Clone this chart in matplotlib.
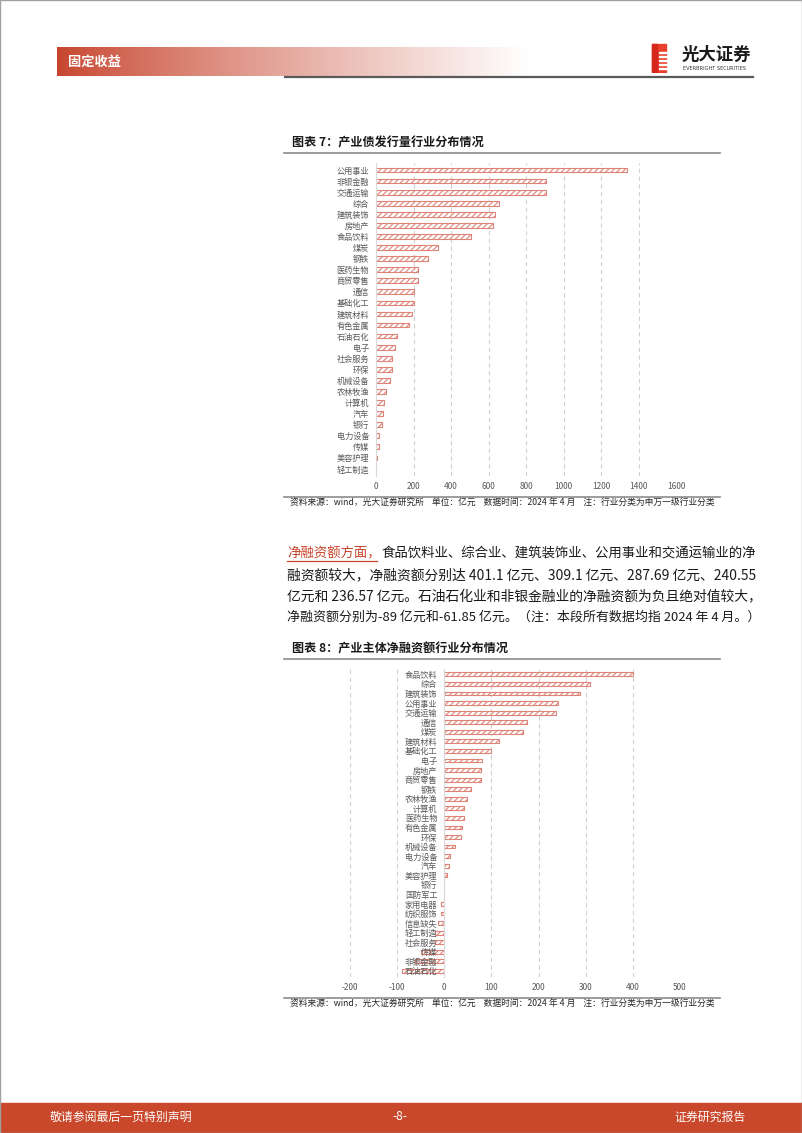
import numpy as np
import matplotlib
matplotlib.use('Agg')
import matplotlib.pyplot as plt
from matplotlib.patches import Rectangle

plt.rcParams['font.family'] = ['Noto Sans CJK SC', 'DejaVu Sans']
plt.rcParams['hatch.linewidth'] = 0.8
plt.rcParams['axes.unicode_minus'] = False

# 图表7 产业债发行量（亿元）
ind1 = ['公用事业', '非银金融', '交通运输', '综合', '建筑装饰', '房地产', '食品饮料', '煤炭',
        '钢铁', '医药生物', '商贸零售', '通信', '基础化工', '建筑材料', '有色金属', '石油石化',
        '电子', '社会服务', '环保', '机械设备', '农林牧渔', '计算机', '汽车', '银行',
        '电力设备', '传媒', '美容护理', '轻工制造']
vals1 = [1337, 909, 906, 656, 634, 624, 508, 330, 276, 226, 223, 205, 201, 191, 175, 114,
         100, 87, 84, 77, 55, 43, 39, 32, 18, 17, 5, 2]
ticks1 = [0, 200, 400, 600, 800, 1000, 1200, 1400, 1600]

# 图表8 产业主体净融资额（亿元）
ind2 = ['食品饮料', '综合', '建筑装饰', '公用事业', '交通运输', '通信', '煤炭', '建筑材料',
        '基础化工', '电子', '房地产', '商贸零售', '钢铁', '农林牧渔', '计算机', '医药生物',
        '有色金属', '环保', '机械设备', '电力设备', '汽车', '美容护理', '银行', '国防军工',
        '家用电器', '纺织服饰', '信息缺失', '轻工制造', '社会服务', '传媒', '非银金融', '石油石化']
vals2 = [401.1, 309.1, 287.69, 240.55, 236.57, 175, 168, 115, 100, 81, 78, 77, 57, 49, 42, 41,
         38, 36, 23, 12, 11, 6, 0, 0, -7, -7, -13, -19, -19, -50, -61.85, -89]
ticks2 = [-200, -100, 0, 100, 200, 300, 400, 500]

W, H = 802, 1133
fig = plt.figure(figsize=(W / 100, H / 100), dpi=100)

def fx(x):
    return x / W

def fy(y):
    return 1 - y / H

def box(x0, y0, x1, y1):
    return [fx(x0), fy(y1), fx(x1) - fx(x0), fy(y0) - fy(y1)]

red = '#C9472B'
bar_edge = '#DE8378'
grid_c = '#D0D0D0'
txt_gray = '#595959'

# page border
fig.patches.append(Rectangle((0, 0), 1, 1, transform=fig.transFigure, fill=False,
                             edgecolor='#A0A0A0', linewidth=1))

# header gradient bar
hax = fig.add_axes(box(57, 47, 530, 76))
t = np.linspace(0, 1, 300)
c0 = np.array([0.78, 0.27, 0.18])
grad = np.array([c0 * (1 - s) + np.array([1, 1, 1]) * s for s in t ** 0.85])
hax.imshow(grad[np.newaxis, :, :], aspect='auto', extent=[0, 1, 0, 1])
hax.axis('off')
fig.text(fx(68), fy(61.5), '固定收益', color='white', fontsize=9.5, fontweight='bold',
         va='center', ha='left')
fig.add_artist(plt.Line2D([fx(285), fx(753)], [fy(76.5), fy(76.5)], color='#5A5A5A',
                          linewidth=1.6))

# logo
lax = fig.add_axes(box(650, 43, 672, 73))
lax.set_xlim(0, 22)
lax.set_ylim(30, 0)
lax.axis('off')
lax.add_patch(Rectangle((2, 1), 14, 28, color='#E8412C'))
for yy in [9, 13, 17, 21, 25]:
    lax.add_patch(Rectangle((9, yy), 8, 1.2, color='white'))
lax.add_patch(Rectangle((2, 1), 5, 28, color='#D7261E'))
fig.text(fx(682), fy(55), '光大证券', fontsize=12.5, fontweight='bold', color='#1A1A1A',
         va='center', ha='left')
fig.text(fx(683), fy(68), 'EVERBRIGHT SECURITIES', fontsize=3.6, color='#333333',
         va='center', ha='left', family='DejaVu Sans')

def chart_frame(title, ytitle, yline, ysrc, ysrc_line):
    fig.text(fx(292), fy(ytitle), title, fontsize=8.7, fontweight='bold', color='#1A1A1A',
             va='center', ha='left')
    fig.add_artist(plt.Line2D([fx(284), fx(720)], [fy(yline), fy(yline)], color='#8C8C8C',
                              linewidth=1.2))
    fig.add_artist(plt.Line2D([fx(284), fx(720)], [fy(ysrc_line), fy(ysrc_line)],
                              color='#8C8C8C', linewidth=1.2))
    fig.text(fx(290), fy(ysrc),
             '资料来源：wind，光大证券研究所    单位：亿元    数据时间：2024 年 4 月    注：行业分类为申万一级行业分类',
             fontsize=6.3, color='#262626', va='center', ha='left')

def hbar(ax, cats, vals, ticks, height, zero_spine=False):
    y = np.arange(len(cats))
    ax.barh(y, vals, height=height, color='white', edgecolor=bar_edge, hatch='//////',
            linewidth=0.8, zorder=1)
    ax.set_axisbelow(False)
    if zero_spine:
        ax.spines['left'].set_position(('data', 0))
    ax.set_yticks(y)
    ax.set_yticklabels(cats, fontsize=5.9, color=txt_gray)
    ax.set_ylim(len(cats) - 0.4, -0.6)
    ax.set_xticks(ticks)
    ax.set_xticklabels([str(v) for v in ticks], fontsize=6, color=txt_gray)
    ax.set_xlim(ticks[0], ticks[-1])
    for v in ticks:
        if v != 0:
            ax.axvline(v, color=grid_c, linestyle=(0, (4, 3)), linewidth=0.8, zorder=0)
    for s in ['top', 'right', 'bottom']:
        ax.spines[s].set_visible(False)
    ax.spines['left'].set_color('#D9D9D9')
    ax.spines['left'].set_linewidth(0.8)
    ax.tick_params(axis='both', length=0)
    ax.tick_params(axis='y', pad=5)
    ax.tick_params(axis='x', pad=4.5)
    ax.set_facecolor('none')

# chart 7
chart_frame('图表 7：产业债发行量行业分布情况', 143, 153, 503, 497)
ax1 = fig.add_axes(box(376, 163.4, 676, 475.6))
hbar(ax1, ind1, vals1, ticks1, 0.42)

# paragraph
para_fs = 9.65
fig.text(fx(287), fy(553.5), '净融资额方面，', fontsize=para_fs, color='#C8452B',
         va='center', ha='left')
fig.add_artist(plt.Line2D([fx(287), fx(377)], [fy(561.5), fy(561.5)], color='#C8452B',
                          linewidth=0.9))
fig.text(fx(381), fy(553.5), '食品饮料业、综合业、建筑装饰业、公用事业和交通运输业的净',
         fontsize=para_fs, color='#1A1A1A', va='center', ha='left')
lines = ['融资额较大，净融资额分别达 401.1 亿元、309.1 亿元、287.69 亿元、240.55',
         '亿元和 236.57 亿元。石油石化业和非银金融业的净融资额为负且绝对值较大，',
         '净融资额分别为-89 亿元和-61.85 亿元。（注：本段所有数据均指 2024 年 4 月。）']
line_fs = [9.95, 9.95, 9.35]
for i, ln in enumerate(lines):
    fig.text(fx(287), fy(575 + 21.3 * i), ln, fontsize=line_fs[i], color='#1A1A1A',
             va='center', ha='left')

# chart 8
chart_frame('图表 8：产业主体净融资额行业分布情况', 649, 659, 1004, 998)
ax2 = fig.add_axes(box(350, 668.6, 680, 976.7))
hbar(ax2, ind2, vals2, ticks2, 0.4, zero_spine=True)

# footer
fig.patches.append(Rectangle((0, 0), 1, fy(1103), transform=fig.transFigure,
                             color=red, zorder=0))
fig.text(fx(50), fy(1117), '敬请参阅最后一页特别声明', fontsize=8.6, color='white',
         va='center', ha='left')
fig.text(fx(400), fy(1117), '-8-', fontsize=8.6, color='white', va='center', ha='center')
fig.text(fx(746), fy(1117), '证券研究报告', fontsize=8.6, color='white', va='center',
         ha='right')

fig.savefig('out.png', dpi=100)
